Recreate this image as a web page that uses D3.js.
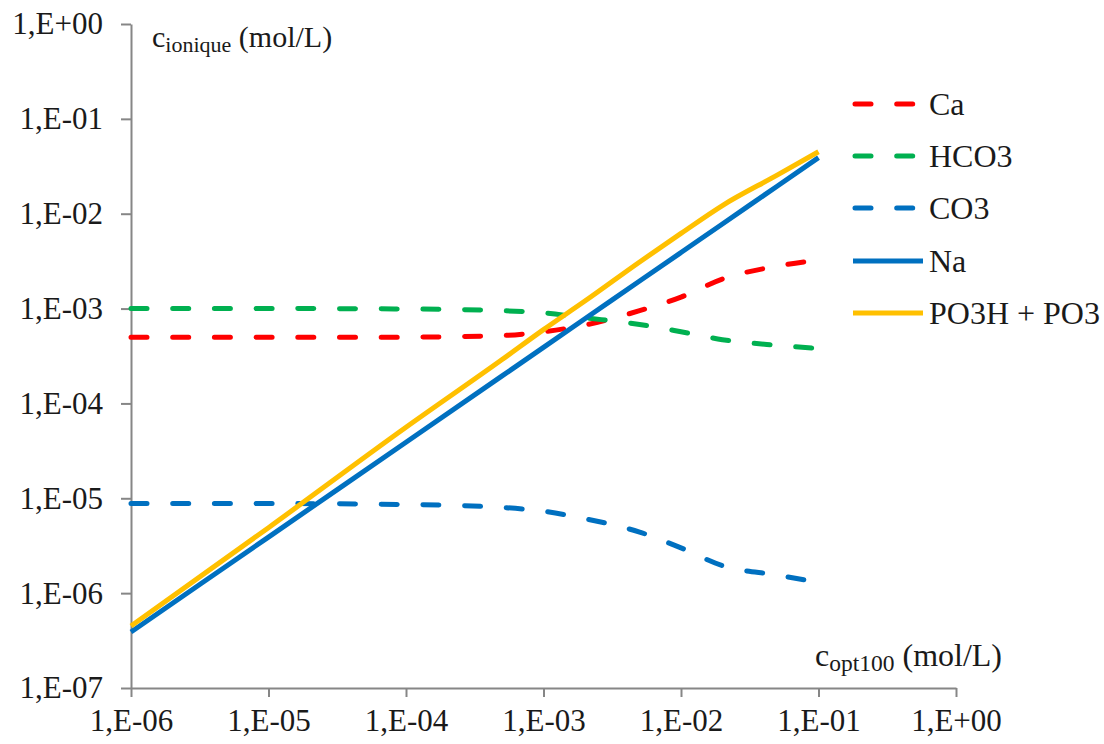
<!DOCTYPE html>
<html>
<head>
<meta charset="utf-8">
<script src="https://cdn.jsdelivr.net/npm/d3@7"></script>
<style>
  html, body { margin: 0; padding: 0; background: #fff; }
  svg { display: block; }
</style>
</head>
<body>
<svg id="chart" width="1104" height="744"></svg>
<script>
// ---- data ----
const copt = [1e-6, 1e-5, 1e-4, 5e-4, 1e-3, 2e-3, 5e-3, 1e-2, 2e-2, 5e-2, 1e-1];
const ca   = [5.0e-4, 5.0e-4, 5.0e-4, 5.2e-4, 5.7e-4, 6.7e-4, 9.5e-4, 1.32e-3, 2.05e-3, 2.8e-3, 3.25e-3];
const hco3 = [1.0e-3, 1.0e-3, 9.9e-4, 9.5e-4, 9.0e-4, 8.0e-4, 6.8e-4, 5.7e-4, 4.7e-4, 4.1e-4, 3.8e-4];
const co3  = [8.8e-6, 8.8e-6, 8.6e-6, 8.0e-6, 7.3e-6, 6.1e-6, 4.4e-6, 3.0e-6, 1.95e-6, 1.55e-6, 1.3e-6];
const na   = [3.9e-7, 3.9e-6, 3.9e-5, 1.95e-4, 3.9e-4, 7.8e-4, 1.95e-3, 3.9e-3, 7.8e-3, 1.95e-2, 3.9e-2];
const po3  = [4.5e-7, 4.9e-6, 5.6e-5, 2.9e-4, 6.0e-4, 1.2e-3, 3.1e-3, 6.2e-3, 1.22e-2, 2.55e-2, 4.5e-2];

const seriesNames  = ["Ca", "HCO3", "CO3", "Na", "PO3H + PO3"];
const seriesValues = [ca, hco3, co3, na, po3];
const seriesColors = ["#FF0000", "#00B050", "#0070C0", "#0070C0", "#FFC000"];
const seriesDashed = [true, true, true, false, false];

const xTicks = [1e-6, 1e-5, 1e-4, 1e-3, 1e-2, 1e-1, 1e0];
const yTicks = [1e-7, 1e-6, 1e-5, 1e-4, 1e-3, 1e-2, 1e-1, 1e0];

// ---- drawing ----
const FONT = "'Liberation Serif', 'Times New Roman', serif";
const svg = d3.select("#chart").style("font-family", FONT);
const x = d3.scaleLog().domain([1e-6, 1]).range([131, 956]);
const y = d3.scaleLog().domain([1e-7, 1]).range([688, 24]);

const fmt = d => {
  const e = Math.round(Math.log10(d));
  return "1,E" + (e < 0 ? "-" : "+") + String(Math.abs(e)).padStart(2, "0");
};

const axisColor = "#868686";
const textColor = "#1a1a1a";

const gx = svg.append("g").attr("transform", `translate(0,${y(1e-7)})`)
  .call(d3.axisBottom(x).tickValues(xTicks).tickFormat(fmt).tickSizeInner(9).tickSizeOuter(0).tickPadding(12));
const gy = svg.append("g").attr("transform", `translate(${x(1e-6)},0)`)
  .call(d3.axisLeft(y).tickValues(yTicks).tickFormat(fmt).tickSizeInner(10).tickSizeOuter(0).tickPadding(18));

[gx, gy].forEach(g => {
  g.attr("font-family", null);
  g.select(".domain").attr("stroke", axisColor).attr("stroke-width", 2);
  g.selectAll(".tick line").attr("stroke", axisColor).attr("stroke-width", 2);
  g.selectAll(".tick text").attr("font-size", 31).attr("fill", textColor)
    .style("font-family", FONT);
});
gx.selectAll(".tick text").attr("dy", "0.71em");

const line = d3.line()
  .x(d => x(d[0]))
  .y(d => y(d[1]))
  .curve(d3.curveMonotoneX);

const dash = "16,25.7";

seriesValues.forEach((vals, i) => {
  svg.append("path")
    .datum(copt.map((c, k) => [c, vals[k]]))
    .attr("fill", "none")
    .attr("stroke", seriesColors[i])
    .attr("stroke-width", 5)
    .attr("stroke-linecap", seriesDashed[i] ? "round" : "butt")
    .attr("stroke-linejoin", "round")
    .attr("stroke-dasharray", seriesDashed[i] ? dash : null)
    .attr("d", line);
});

// ---- legend ----
const legY = [104, 156, 208, 261, 313];
const leg = svg.append("g");
seriesNames.forEach((n, i) => {
  if (seriesDashed[i]) {
    leg.append("line").attr("x1", 855).attr("x2", 917).attr("y1", legY[i]).attr("y2", legY[i])
      .attr("stroke", seriesColors[i]).attr("stroke-width", 5)
      .attr("stroke-linecap", "round").attr("stroke-dasharray", dash);
  } else {
    leg.append("line").attr("x1", 853).attr("x2", 923).attr("y1", legY[i]).attr("y2", legY[i])
      .attr("stroke", seriesColors[i]).attr("stroke-width", 5);
  }
  leg.append("text").attr("x", 929).attr("y", legY[i]).attr("dy", "0.35em")
    .attr("font-size", 32).attr("fill", textColor).style("font-family", FONT).text(n);
});

// ---- axis titles ----
const yt = svg.append("text").attr("x", 152).attr("y", 47).attr("font-size", 30)
  .attr("fill", textColor).style("font-family", FONT);
yt.append("tspan").text("c");
yt.append("tspan").attr("font-size", 22).attr("dy", 5).text("ionique");
yt.append("tspan").attr("dy", -5).text(" (mol/L)");

const xt = svg.append("text").attr("x", 815).attr("y", 666).attr("font-size", 32)
  .attr("fill", textColor).style("font-family", FONT);
xt.append("tspan").text("c");
xt.append("tspan").attr("font-size", 23.5).attr("dy", 5).text("opt100");
xt.append("tspan").attr("dy", -5).text(" (mol/L)");
</script>
</body>
</html>
